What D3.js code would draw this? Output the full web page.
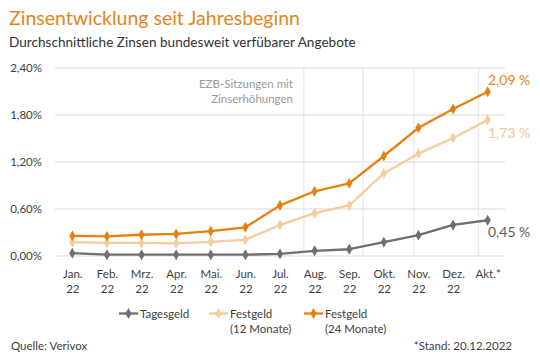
<!DOCTYPE html>
<html><head><meta charset="utf-8">
<script src="https://cdn.jsdelivr.net/npm/d3@7"></script>
<style>
html,body{margin:0;padding:0;background:#fff;}
svg{display:block;font-family:Lato,"Open Sans",sans-serif;}
</style></head>
<body>
<svg id="c" width="540" height="359"></svg>
<script>
const months = ["Jan.|22","Feb.|22","Mrz.|22","Apr.|22","Mai.|22","Jun.|22","Jul.|22","Aug.|22","Sep.|22","Okt.|22","Nov.|22","Dez.|22","Akt.*"];
const tagesgeld = [0.03,0.01,0.01,0.01,0.01,0.01,0.02,0.06,0.08,0.17,0.26,0.39,0.45];
const festgeld12 = [0.17,0.16,0.16,0.155,0.175,0.20,0.39,0.54,0.64,1.05,1.30,1.50,1.73];
const festgeld24 = [0.25,0.245,0.265,0.275,0.31,0.36,0.64,0.82,0.92,1.27,1.63,1.87,2.09];
const yTicks = [0,0.6,1.2,1.8,2.4];
const ezbMeetings = [6.69,8.40,9.87,11.74]; // fractional month index
const seriesNames = ["Tagesgeld","Festgeld|(12 Monate)","Festgeld|(24 Monate)"];
const endLabels = ["0,45 %","1,73 %","2,09 %"];

const colors = ["#6f6f6f","#f5cd9c","#e8800f"];
const svg = d3.select("#c");
const L=55,R=505,T=67.5,B=255.5;
const x = d3.scalePoint().domain(months).range([L,R]).padding(0.5);
const xi = d3.scaleLinear().domain([0,months.length-1]).range([x(months[0]),x(months[months.length-1])]);
const y = d3.scaleLinear().domain([0,2.4]).range([B,T]);

// title
svg.append("text").attr("x",9).attr("y",25).attr("fill","#e2861c").attr("font-size",19.5).text("Zinsentwicklung seit Jahresbeginn");
svg.append("text").attr("x",9).attr("y",47).attr("fill","#333").attr("font-size",13.6).text("Durchschnittliche Zinsen bundesweit verfübarer Angebote");

// grid
const yAxis = d3.axisLeft(y).tickValues(yTicks).tickSize(-(R-L)).tickFormat(d=>d.toFixed(2).replace(".",",")+"%");
const gy = svg.append("g").attr("transform",`translate(${L},0)`).call(yAxis);
gy.select(".domain").remove();
gy.selectAll(".tick line").attr("stroke","#d9d9d9").attr("stroke-width",1);
gy.selectAll(".tick text").attr("x",-13).attr("fill","#404040").attr("font-size",11.5).attr("font-family","Lato,sans-serif");

// EZB lines
svg.append("g").selectAll("line").data(ezbMeetings).join("line")
  .attr("x1",d=>xi(d)).attr("x2",d=>xi(d)).attr("y1",T).attr("y2",B)
  .attr("stroke","#e4e4e4").attr("stroke-width",1);
const ezb = svg.append("text").attr("text-anchor","end").attr("fill","#9a9a9a").attr("font-size",11.5);
ezb.append("tspan").attr("x",293).attr("y",87.5).text("EZB-Sitzungen mit");
ezb.append("tspan").attr("x",293).attr("y",102.5).text("Zinserhöhungen");

// x axis labels
const xAxis = d3.axisBottom(x).tickSize(0).tickFormat("");
const gx = svg.append("g").attr("transform",`translate(0,${B})`).call(xAxis);
gx.select(".domain").remove();
gx.selectAll(".tick").each(function(d){
  const parts=d.split("|");
  const t=d3.select(this).append("text").attr("text-anchor","middle").attr("fill","#404040").attr("font-size",11.5).attr("font-family","Lato,sans-serif");
  parts.forEach((p,i)=>t.append("tspan").attr("x",0).attr("y",22+i*15).text(p));
});

// series
const allSeries=[tagesgeld,festgeld12,festgeld24];
const line=d3.line().x((d,i)=>x(months[i])).y(d=>y(d));
const diamond=d3.symbol().type(d3.symbolDiamond).size(34);
[1,2,0].forEach(k=>{
  const data=allSeries[k];
  svg.append("path").datum(data).attr("d",line).attr("fill","none").attr("stroke",colors[k]).attr("stroke-width",2.3).attr("stroke-linejoin","round");
  svg.append("g").selectAll("path").data(data).join("path")
    .attr("d",diamond).attr("fill",colors[k])
    .attr("transform",(d,i)=>`translate(${x(months[i])},${y(d)})`);
});
// end labels
const endY=[231.7,132.7,80];
allSeries.forEach((s,k)=>{
  svg.append("text").attr("x",488).attr("y",endY[k]+5).attr("fill",k===1?"#f2c690":(k===2?"#e2861c":"#5f5f5f"))
    .attr("font-size",14).text(endLabels[k]);
});

// legend
const legX=[119,209,304];
seriesNames.forEach((n,k)=>{
  const g=svg.append("g").attr("transform",`translate(${legX[k]},313.5)`);
  g.append("line").attr("x1",0).attr("x2",19).attr("stroke",colors[k]).attr("stroke-width",2.3);
  g.append("path").attr("d",diamond).attr("transform","translate(9.5,0)").attr("fill",colors[k]);
  const t=g.append("text").attr("fill","#404040").attr("font-size",11.5);
  n.split("|").forEach((p,i)=>t.append("tspan").attr("x",21).attr("y",4+i*15).text(p));
});

// footer
svg.append("text").attr("x",11).attr("y",350).attr("fill","#404040").attr("font-size",11.5).text("Quelle: Verivox");
svg.append("text").attr("x",512).attr("y",350).attr("text-anchor","end").attr("fill","#404040").attr("font-size",11.5).text("*Stand: 20.12.2022");
</script>
</body></html>
